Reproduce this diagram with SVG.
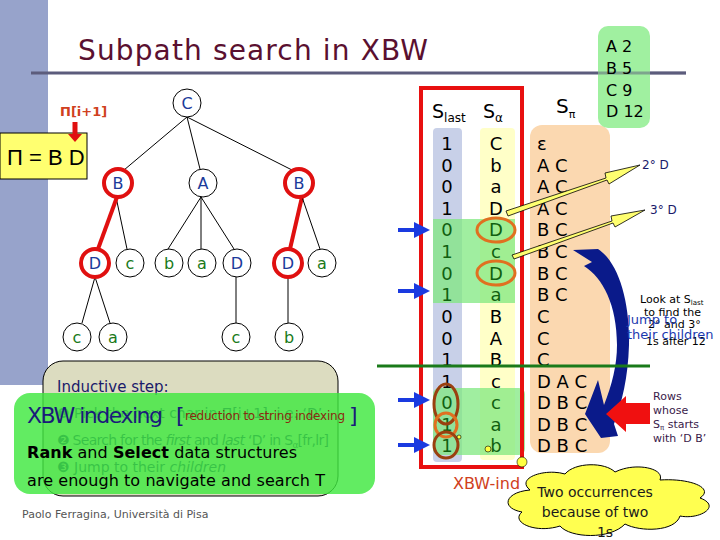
<svg xmlns="http://www.w3.org/2000/svg" width="720" height="540" viewBox="0 0 720 540">
<defs>
<style>
.nd{fill:#fff;stroke:#000;stroke-width:1}
.hl{fill:#fff;stroke:#e01010;stroke-width:4}
.up{font-family:"DejaVu Sans",Verdana,sans-serif;font-size:16px;fill:#1a3a9a;text-anchor:middle}
.lo{font-family:"DejaVu Sans",Verdana,sans-serif;font-size:16px;fill:#1a7a1a;text-anchor:middle}
.edge{stroke:#000;stroke-width:1;fill:none}
.red{stroke:#e01010;stroke-width:4;fill:none}
.col{font-family:"DejaVu Sans",Verdana,sans-serif;font-size:18px;fill:#000;text-anchor:middle}
.colg{font-family:"DejaVu Sans",Verdana,sans-serif;font-size:18px;fill:#106010;text-anchor:middle}
.sp{font-family:"DejaVu Sans",Verdana,sans-serif;font-size:18px;fill:#000}
.barrow{stroke:#1a3ae0;stroke-width:4;fill:none}
.note{font-family:"DejaVu Sans",Verdana,sans-serif;font-size:11px}
</style>
<marker id="ah" markerWidth="4" markerHeight="4" refX="2.5" refY="2" orient="auto" markerUnits="strokeWidth">
<path d="M0,0 L4,2 L0,4 Z" fill="#1a3ae0"/>
</marker>
</defs>
<rect width="720" height="540" fill="#fff"/>
<!-- slide decoration -->
<rect x="0" y="0" width="48" height="385" fill="#97a3cb"/>
<line x1="31" y1="73" x2="686" y2="73" stroke="#5c5c7c" stroke-width="3"/>
<text x="78" y="60" font-family="DejaVu Sans,Verdana,sans-serif" font-size="28" fill="#5a1030" textLength="350">Subpath search in XBW</text>

<!-- pattern box -->
<g id="pattern">
<rect x="0" y="133" width="87" height="46" fill="#ffff70" stroke="#000" stroke-width="1"/>
<text x="7" y="165" font-family="Liberation Sans,Arial,sans-serif" font-size="22" fill="#000">Π = B D</text>
<text x="60" y="116" font-family="DejaVu Sans,Verdana,sans-serif" font-size="13" font-weight="bold" fill="#d04020">Π[i+1]</text>
<line x1="75" y1="122" x2="75" y2="136" stroke="#e01010" stroke-width="5"/>
<path d="M68,134 L82,134 L75,142 Z" fill="#e01010"/>
</g>

<!-- tree connectors -->
<g id="edges">
<line class="edge" x1="187" y1="117" x2="124" y2="170"/>
<line class="edge" x1="187" y1="117" x2="200" y2="169"/>
<line class="edge" x1="187" y1="117" x2="292" y2="170"/>
<line class="edge" x1="116" y1="197" x2="127" y2="249"/>
<line class="red" x1="117" y1="197" x2="98" y2="249"/>
<line class="edge" x1="201" y1="197" x2="168" y2="249"/>
<line class="edge" x1="201" y1="197" x2="201" y2="249"/>
<line class="edge" x1="201" y1="197" x2="234" y2="249"/>
<line class="red" x1="302" y1="197" x2="290" y2="249"/>
<line class="edge" x1="302" y1="197" x2="320" y2="249"/>
<line class="edge" x1="95" y1="277" x2="82" y2="323"/>
<line class="edge" x1="95" y1="277" x2="110" y2="323"/>
<line class="edge" x1="236" y1="277" x2="236" y2="323"/>
<line class="edge" x1="288" y1="277" x2="288" y2="323"/>
</g>

<g id="n-root"><circle class="nd" cx="187" cy="103" r="14"/><text class="up" x="187" y="109">C</text></g>
<g id="n-B1"><circle class="hl" cx="118" cy="183" r="14"/><text class="up" x="118" y="189">B</text></g>
<g id="n-A"><circle class="nd" cx="203" cy="183" r="14"/><text class="up" x="203" y="189">A</text></g>
<g id="n-B2"><circle class="hl" cx="299" cy="183" r="14"/><text class="up" x="299" y="189">B</text></g>
<g id="n-D1"><circle class="hl" cx="95" cy="263" r="14"/><text class="up" x="95" y="269">D</text></g>
<g id="n-c1"><circle class="nd" cx="130" cy="263" r="14"/><text class="lo" x="130" y="269">c</text></g>
<g id="n-b1"><circle class="nd" cx="169" cy="263" r="14"/><text class="lo" x="169" y="269">b</text></g>
<g id="n-a1"><circle class="nd" cx="202" cy="263" r="14"/><text class="lo" x="202" y="269">a</text></g>
<g id="n-D2"><circle class="nd" cx="237" cy="263" r="14"/><text class="up" x="237" y="269">D</text></g>
<g id="n-D3"><circle class="hl" cx="288" cy="263" r="14"/><text class="up" x="288" y="269">D</text></g>
<g id="n-a2"><circle class="nd" cx="322" cy="263" r="14"/><text class="lo" x="322" y="269">a</text></g>
<g id="n-c2"><circle class="nd" cx="77" cy="337" r="14"/><text class="lo" x="77" y="343">c</text></g>
<g id="n-a3"><circle class="nd" cx="113" cy="337" r="14"/><text class="lo" x="113" y="343">a</text></g>
<g id="n-c3"><circle class="nd" cx="236" cy="337" r="14"/><text class="lo" x="236" y="343">c</text></g>
<g id="n-b2"><circle class="nd" cx="289" cy="337" r="14"/><text class="lo" x="289" y="343">b</text></g>

<!-- XBW table -->
<g id="xbw">
<rect x="433" y="128" width="29" height="334" rx="4" fill="#c8d0e8"/>
<rect x="480" y="128" width="35" height="332" rx="4" fill="#ffffc8"/>
<rect x="433" y="219" width="82" height="84" fill="#80e880" opacity="0.75"/>
<rect x="433" y="388" width="92" height="67" rx="6" fill="#80e880" opacity="0.75"/>
<rect x="421" y="88" width="101" height="379" fill="none" stroke="#e81010" stroke-width="4"/>
<text x="432" y="118" font-family="DejaVu Sans,Verdana,sans-serif" font-size="19">S<tspan font-size="12" dy="4">last</tspan></text>
<text x="483" y="118" font-family="DejaVu Sans,Verdana,sans-serif" font-size="19">S<tspan font-size="12" dy="4">α</tspan></text>
<text class="col" x="447" y="150">1</text><text class="col" x="447" y="172">0</text><text class="col" x="447" y="193">0</text><text class="col" x="447" y="215">1</text>
<text class="colg" x="447" y="236">0</text><text class="colg" x="447" y="258">1</text><text class="colg" x="447" y="280">0</text><text class="colg" x="447" y="301">1</text>
<text class="col" x="447" y="323">0</text><text class="col" x="447" y="345">0</text><text class="col" x="447" y="366">1</text><text class="col" x="447" y="388">1</text>
<text class="colg" x="447" y="409">0</text><text class="colg" x="447" y="431">1</text><text class="colg" x="447" y="452">1</text>
<text class="col" x="496" y="150">C</text><text class="col" x="496" y="172">b</text><text class="col" x="496" y="193">a</text><text class="col" x="496" y="215">D</text>
<text class="colg" x="496" y="236">D</text><text class="colg" x="496" y="258">c</text><text class="colg" x="496" y="280">D</text><text class="colg" x="496" y="301">a</text>
<text class="col" x="496" y="323">B</text><text class="col" x="496" y="345">A</text><text class="col" x="496" y="366">B</text><text class="col" x="496" y="388">c</text>
<text class="colg" x="496" y="409">c</text><text class="colg" x="496" y="431">a</text><text class="colg" x="496" y="452">b</text>
<ellipse cx="496" cy="230" rx="19" ry="12" fill="none" stroke="#e07020" stroke-width="3"/>
<ellipse cx="496" cy="273" rx="19" ry="12" fill="none" stroke="#e07020" stroke-width="3"/>
<ellipse cx="446" cy="404" rx="12" ry="20" fill="none" stroke="#9a4010" stroke-width="3"/>
<ellipse cx="446" cy="425" rx="11" ry="12" fill="none" stroke="#e07020" stroke-width="3"/>
<ellipse cx="446" cy="445" rx="12" ry="13" fill="none" stroke="#9a4010" stroke-width="3"/>
<circle cx="459" cy="437" r="2" fill="#ffff40" stroke="#000" stroke-width="0.6"/>
<circle cx="488" cy="449" r="3" fill="#ffff40" stroke="#000" stroke-width="0.6"/>
<circle cx="522" cy="462" r="5" fill="#ffff40" stroke="#000" stroke-width="0.6"/>
<text x="453" y="489" font-family="DejaVu Sans,Verdana,sans-serif" font-size="16" fill="#d04020">XBW-ind</text>
</g>

<!-- S_pi column -->
<g id="spi">
<rect x="530" y="125" width="80" height="328" rx="12" fill="#fbd8b0"/>
<text x="556" y="113" font-family="DejaVu Sans,Verdana,sans-serif" font-size="20">S<tspan font-size="11" dy="5">π</tspan></text>
<text class="sp" x="537" y="150" font-size="14">ε</text>
<text class="sp" x="537" y="172">A C</text><text class="sp" x="537" y="193">A C</text><text class="sp" x="537" y="215">A C</text>
<text class="sp" x="537" y="236">B C</text><text class="sp" x="537" y="258">B C</text><text class="sp" x="537" y="280">B C</text><text class="sp" x="537" y="301">B C</text>
<text class="sp" x="537" y="323">C</text><text class="sp" x="537" y="345">C</text><text class="sp" x="537" y="366">C</text>
<text class="sp" x="537" y="388">D A C</text><text class="sp" x="537" y="409">D B C</text><text class="sp" x="537" y="431">D B C</text><text class="sp" x="537" y="452">D B C</text>
</g>

<!-- connectors -->
<g id="connectors">
<line class="barrow" x1="398" y1="230" x2="424" y2="230" marker-end="url(#ah)"/>
<line class="barrow" x1="398" y1="291" x2="424" y2="291" marker-end="url(#ah)"/>
<line class="barrow" x1="398" y1="400" x2="424" y2="400" marker-end="url(#ah)"/>
<line class="barrow" x1="398" y1="445" x2="424" y2="445" marker-end="url(#ah)"/>
<path d="M506,211 L606,178 L605,173 L640,165 L609,184 L607,180 L508,216 Z" fill="#ffff70" stroke="#000" stroke-width="0.8"/>
<path d="M512,255 L612,221 L611,216 L645,210 L615,227 L613,223 L514,259 Z" fill="#ffff70" stroke="#000" stroke-width="0.8"/>
<!-- big curved navy arrow -->
<path d="M573,250 L598,249 C618,262 630,300 629,345 C628,378 622,402 614,424 L618,436 L601,438 L585,414 L598,380 L604,405 C612,385 617,365 617,345 C617,305 603,278 584,266 L592,262 Z" fill="#0a1a8a"/>
<path d="M650,403 L626,403 L626,396 L606,414 L626,432 L626,424 L650,424 Z" fill="#f01010"/>
<line x1="377" y1="366" x2="650" y2="366" stroke="#1a7a1a" stroke-width="3"/>
</g>

<!-- letter counts -->
<g id="counts">
<rect x="598" y="26" width="52" height="102" rx="10" fill="#a0f0a0"/>
<line x1="598" y1="73" x2="686" y2="73" stroke="#5c5c7c" stroke-width="3" opacity="0.5"/>
<text x="606" y="52" font-family="DejaVu Sans,Verdana,sans-serif" font-size="16">A 2</text>
<text x="606" y="74" font-family="DejaVu Sans,Verdana,sans-serif" font-size="16">B 5</text>
<text x="606" y="96" font-family="DejaVu Sans,Verdana,sans-serif" font-size="16">C 9</text>
<text x="606" y="117" font-family="DejaVu Sans,Verdana,sans-serif" font-size="16">D 12</text>
</g>

<!-- side notes -->
<g id="notes">
<text x="642" y="169" font-family="DejaVu Sans,Verdana,sans-serif" font-size="12" fill="#1a1a6a">2° D</text>
<text x="650" y="214" font-family="DejaVu Sans,Verdana,sans-serif" font-size="12" fill="#1a1a6a">3° D</text>
<text class="note" x="640" y="303" fill="#000">Look at S<tspan font-size="7" dy="2">last</tspan></text>
<text class="note" x="644" y="316" fill="#000">to find the</text>
<text class="note" x="648" y="328" fill="#000">2° and 3°</text>
<text class="note" x="646" y="345" fill="#000">1s after 12</text>
<text x="627" y="324" font-family="DejaVu Sans,Verdana,sans-serif" font-size="13" fill="#1a3ab0">Jump to</text>
<text x="627" y="339" font-family="DejaVu Sans,Verdana,sans-serif" font-size="13" fill="#1a3ab0">their children</text>
<text class="note" x="653" y="400" fill="#3a1a4a">Rows</text>
<text class="note" x="653" y="414" fill="#3a1a4a">whose</text>
<text class="note" x="653" y="428" fill="#3a1a4a">S<tspan font-size="7" dy="2">π</tspan><tspan dy="-2"> starts</tspan></text>
<text class="note" x="653" y="442" fill="#3a1a4a">with ‘D B’</text>
</g>

<!-- inductive step box -->
<g id="inductive">
<rect x="43" y="361" width="295" height="135" rx="20" fill="#dcdcc0" stroke="#000" stroke-width="1"/>
<text x="57" y="392" font-family="DejaVu Sans,Verdana,sans-serif" font-size="15" fill="#1a1a6a">Inductive step:</text>
<text x="57" y="418" font-family="DejaVu Sans,Verdana,sans-serif" font-size="14" fill="#1a1a6a">❶ Pick the next char in Π[i+1], i.e. ‘D’</text>
<text x="57" y="445" font-family="DejaVu Sans,Verdana,sans-serif" font-size="14" fill="#1a1a6a" textLength="272">❷ Search for the <tspan font-style="italic">first</tspan> and <tspan font-style="italic">last</tspan> ‘D’ in S<tspan font-size="9" dy="3">α</tspan><tspan dy="-3">[fr,lr]</tspan></text>
<text x="57" y="472" font-family="DejaVu Sans,Verdana,sans-serif" font-size="14" fill="#1a1a6a">❸ Jump to their <tspan font-style="italic">children</tspan></text>
</g>

<!-- XBW indexing box -->
<g id="indexing">
<rect x="14" y="393" width="361" height="101" rx="16" fill="#40e840" opacity="0.82"/>
<text x="27" y="423" font-family="DejaVu Sans,Verdana,sans-serif" font-size="22" fill="#1a1a7a" textLength="136">XBW indexing</text>
<text x="176" y="423" font-family="DejaVu Sans,Verdana,sans-serif" font-size="22" fill="#1a1a7a">[</text>
<text x="185" y="420" font-family="DejaVu Sans,Verdana,sans-serif" font-size="12" fill="#8a2a10" textLength="160">reduction to string indexing</text>
<text x="349" y="423" font-family="DejaVu Sans,Verdana,sans-serif" font-size="22" fill="#1a1a7a">]</text>
<text x="27" y="458" font-family="DejaVu Sans,Verdana,sans-serif" font-size="16" fill="#000" textLength="270"><tspan font-weight="bold">Rank</tspan> and <tspan font-weight="bold">Select</tspan> data structures</text>
<text x="27" y="486" font-family="DejaVu Sans,Verdana,sans-serif" font-size="16" fill="#000" textLength="298">are enough to navigate and search T</text>
</g>

<text x="22" y="518" font-family="DejaVu Sans,Verdana,sans-serif" font-size="11" fill="#555">Paolo Ferragina, Università di Pisa</text>

<!-- cloud -->
<g id="cloud">
<path d="M530,490 C515,478 545,468 565,474 C575,462 605,462 615,472 C635,462 665,468 660,480 C690,478 715,488 700,498 C722,506 700,520 680,516 C675,532 640,532 625,524 C610,540 570,538 560,526 C535,534 510,522 522,512 C500,508 505,492 530,490 Z" fill="#ffff50" stroke="#000" stroke-width="1"/>
<text x="595" y="497" font-family="DejaVu Sans,Verdana,sans-serif" font-size="14" text-anchor="middle" fill="#1a1a1a">Two occurrences</text>
<text x="595" y="517" font-family="DejaVu Sans,Verdana,sans-serif" font-size="14" text-anchor="middle" fill="#1a1a1a">because of two</text>
<text x="605" y="537" font-family="DejaVu Sans,Verdana,sans-serif" font-size="14" text-anchor="middle" fill="#1a1a1a">1s</text>
</g>
</svg>
